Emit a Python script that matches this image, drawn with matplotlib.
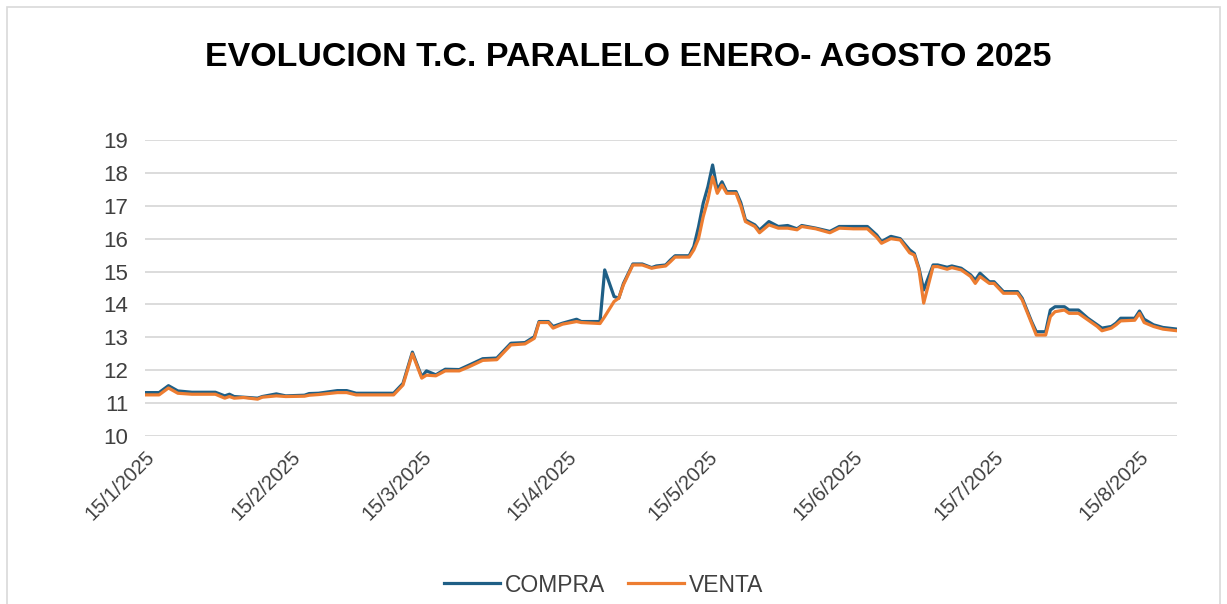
import pandas as pd
import matplotlib.pyplot as plt
from matplotlib.patches import Rectangle

fechas = ['2025-01-15', '2025-01-18', '2025-01-20', '2025-01-22', '2025-01-25', '2025-01-30',
          '2025-02-01', '2025-02-02', '2025-02-03', '2025-02-05', '2025-02-08', '2025-02-09',
          '2025-02-12', '2025-02-14', '2025-02-18', '2025-02-19', '2025-02-21', '2025-02-25',
          '2025-02-27', '2025-03-01', '2025-03-09', '2025-03-11', '2025-03-13', '2025-03-15',
          '2025-03-16', '2025-03-18', '2025-03-20', '2025-03-23', '2025-03-25', '2025-03-28',
          '2025-03-31', '2025-04-03', '2025-04-06', '2025-04-08', '2025-04-09', '2025-04-11',
          '2025-04-12', '2025-04-14', '2025-04-17', '2025-04-18', '2025-04-22', '2025-04-23',
          '2025-04-25', '2025-04-26', '2025-04-27', '2025-04-29', '2025-05-01', '2025-05-03',
          '2025-05-04', '2025-05-06', '2025-05-07', '2025-05-08', '2025-05-11', '2025-05-12',
          '2025-05-13', '2025-05-14', '2025-05-15', '2025-05-16', '2025-05-17', '2025-05-18',
          '2025-05-19', '2025-05-21', '2025-05-22', '2025-05-23', '2025-05-25', '2025-05-26',
          '2025-05-28', '2025-05-30', '2025-06-01', '2025-06-03', '2025-06-04', '2025-06-07',
          '2025-06-10', '2025-06-12', '2025-06-15', '2025-06-18', '2025-06-20', '2025-06-21',
          '2025-06-23', '2025-06-25', '2025-06-27', '2025-06-28', '2025-06-29', '2025-06-30',
          '2025-07-02', '2025-07-03', '2025-07-05', '2025-07-06', '2025-07-08', '2025-07-10',
          '2025-07-11', '2025-07-12', '2025-07-14', '2025-07-15', '2025-07-17', '2025-07-20',
          '2025-07-21', '2025-07-23', '2025-07-24', '2025-07-26', '2025-07-27', '2025-07-28',
          '2025-07-30', '2025-07-31', '2025-08-02', '2025-08-04', '2025-08-06', '2025-08-07',
          '2025-08-09', '2025-08-10', '2025-08-11', '2025-08-14', '2025-08-15', '2025-08-16',
          '2025-08-18', '2025-08-20', '2025-08-23']

compra = [11.32, 11.32, 11.53, 11.37, 11.33, 11.33,
          11.22, 11.27, 11.20, 11.18, 11.15, 11.20,
          11.28, 11.22, 11.24, 11.29, 11.30, 11.38,
          11.38, 11.30, 11.30, 11.60, 12.55, 11.80,
          11.98, 11.86, 12.03, 12.02, 12.15, 12.35,
          12.37, 12.82, 12.84, 13.02, 13.48, 13.48,
          13.33, 13.43, 13.55, 13.48, 13.48, 15.05,
          14.24, 14.19, 14.64, 15.23, 15.23, 15.12,
          15.17, 15.20, 15.35, 15.48, 15.48, 15.76,
          16.36, 17.08, 17.58, 18.24, 17.48, 17.73,
          17.43, 17.43, 17.10, 16.57, 16.42, 16.26,
          16.52, 16.37, 16.40, 16.30, 16.40, 16.32,
          16.22, 16.37, 16.37, 16.37, 16.11, 15.91,
          16.07, 16.00, 15.66, 15.55, 15.10, 14.44,
          15.20, 15.20, 15.13, 15.17, 15.10, 14.90,
          14.74, 14.95, 14.69, 14.69, 14.39, 14.39,
          14.19, 13.48, 13.17, 13.17, 13.83, 13.93,
          13.93, 13.83, 13.83, 13.58, 13.38, 13.28,
          13.33, 13.43, 13.58, 13.58, 13.80, 13.55,
          13.38, 13.30, 13.25]

venta = [11.25, 11.25, 11.46, 11.30, 11.27, 11.27,
         11.15, 11.20, 11.15, 11.17, 11.12, 11.18,
         11.22, 11.20, 11.21, 11.24, 11.26, 11.32,
         11.32, 11.25, 11.25, 11.55, 12.50, 11.76,
         11.85, 11.83, 11.98, 11.98, 12.10, 12.30,
         12.32, 12.77, 12.80, 12.97, 13.45, 13.45,
         13.28, 13.40, 13.48, 13.45, 13.42, 13.63,
         14.09, 14.19, 14.60, 15.20, 15.20, 15.10,
         15.13, 15.17, 15.30, 15.44, 15.44, 15.66,
         16.00, 16.67, 17.18, 17.88, 17.38, 17.63,
         17.38, 17.38, 17.00, 16.52, 16.37, 16.18,
         16.42, 16.32, 16.32, 16.27, 16.37, 16.30,
         16.18, 16.32, 16.30, 16.30, 16.04, 15.86,
         16.00, 15.96, 15.57, 15.50, 15.05, 14.04,
         15.15, 15.15, 15.07, 15.12, 15.05, 14.85,
         14.64, 14.85, 14.64, 14.64, 14.34, 14.34,
         14.14, 13.43, 13.07, 13.07, 13.63, 13.78,
         13.83, 13.73, 13.73, 13.53, 13.33, 13.20,
         13.28, 13.38, 13.50, 13.52, 13.73, 13.45,
         13.33, 13.25, 13.20]

etiquetas_x = ['15/1/2025', '15/2/2025', '15/3/2025', '15/4/2025',
               '15/5/2025', '15/6/2025', '15/7/2025', '15/8/2025']

fechas = pd.to_datetime(fechas)
ticks_x = pd.to_datetime(['2025-01-15', '2025-02-15', '2025-03-15', '2025-04-15',
                          '2025-05-15', '2025-06-15', '2025-07-15', '2025-08-15'])

plt.rcParams['font.family'] = ['Liberation Sans', 'DejaVu Sans']

fig = plt.figure(figsize=(12.27, 6.04), dpi=100)
ax = fig.add_axes([145 / 1227, 1 - 436 / 604, (1177 - 145) / 1227, (436 - 140) / 604])

ax.plot(fechas, compra, color='#1f5f86', lw=2.3, label='COMPRA', solid_joinstyle='round')
ax.plot(fechas, venta, color='#ed7d31', lw=2.3, label='VENTA', solid_joinstyle='round')

ax.set_ylim(10, 19)
ax.set_yticks(range(10, 20))
ax.set_xlim(fechas[0], fechas[-1])
ax.set_xticks(ticks_x)
ax.set_xticklabels(etiquetas_x, rotation=45, ha='right', rotation_mode='anchor')
ax.tick_params(axis='both', length=0, labelsize=14.5, colors='#404040')
ax.tick_params(axis='y', labelsize=16, pad=12)
ax.tick_params(axis='x', pad=8)
ax.grid(axis='y', color='#d9d9d9', lw=1.3)
ax.set_axisbelow(True)
for s in ax.spines.values():
    s.set_visible(False)

fig.text(0.512, 1 - 57 / 604, 'EVOLUCION T.C. PARALELO ENERO- AGOSTO 2025',
         ha='center', va='center', fontsize=24.5, fontweight='bold', color='#000000')

fig.legend(loc='center', bbox_to_anchor=(0.492, 1 - 585 / 604), ncol=2, frameon=False,
           fontsize=16.5, handlelength=2.45, columnspacing=1.0, handletextpad=0.2,
           labelcolor='#404040')

fig.patches.append(Rectangle((7 / 1227, -0.01), 1213 / 1227, 1 - 7 / 604 + 0.01,
                             transform=fig.transFigure, fill=False,
                             edgecolor='#d9d9d9', lw=1.2))

fig.savefig('out.png', dpi=100, facecolor='white')
